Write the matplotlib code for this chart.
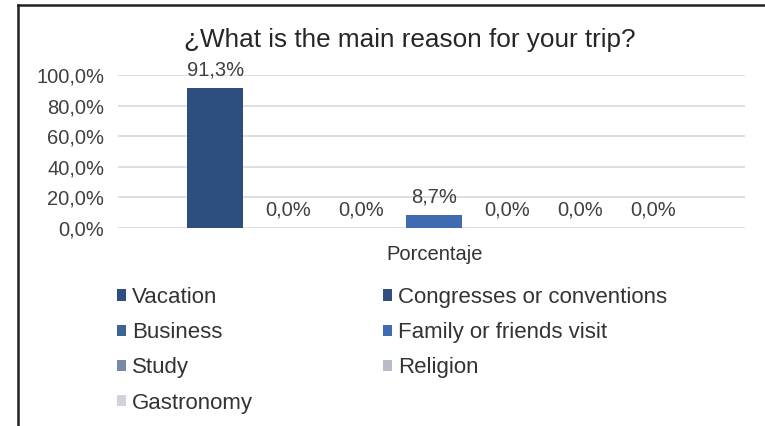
import matplotlib
matplotlib.use("Agg")
import matplotlib.pyplot as plt
from matplotlib.patches import Patch
from matplotlib.lines import Line2D

plt.rcParams['font.family'] = ['Liberation Sans', 'DejaVu Sans']

title = "¿What is the main reason for your trip?"
series = ["Vacation", "Congresses or conventions", "Business", "Family or friends visit",
          "Study", "Religion", "Gastronomy"]
values = [0.913, 0.0, 0.0, 0.087, 0.0, 0.0, 0.0]
colors = ["#2E4E80", "#32507F", "#3A6595", "#3F6CB0", "#7A87A9", "#B7BCC8", "#D0D3DA"]
category = "Porcentaje"
yticks = [0.0, 0.2, 0.4, 0.6, 0.8, 1.0]

def pct(v):
    return f"{v*100:.1f}%".replace(".", ",")

fig = plt.figure(figsize=(7.65, 4.26), dpi=100)
ax = fig.add_axes([118/765, 1-228/426, (745-118)/765, (228-75)/426])

text_col = "#404040"
for i, (v, c) in enumerate(zip(values, colors)):
    ax.bar(i, v, width=0.77, color=c, zorder=3)
    ax.annotate(pct(v), (i, v), xytext=(0, 6), textcoords="offset points",
                ha="center", va="bottom", fontsize=14.5, color=text_col)

ax.set_ylim(0, 1.0)
ax.set_xlim(-1.33, 7.26)
ax.set_yticks(yticks)
ax.set_yticklabels([pct(t) for t in yticks], fontsize=14.5, color=text_col)
ax.set_xticks([])
ax.tick_params(axis="y", length=0, pad=10)
ax.grid(axis="y", color="#D9D9D9", linewidth=1.2, zorder=0)
for s in ax.spines.values():
    s.set_visible(False)

fig.text(410/765, 1-40/426, title, ha="center", va="center", fontsize=18.8, color="#262626")
fig.text(435/765, 1-254/426, category, ha="center", va="center", fontsize=14.5, color="#333333")

order = [0, 2, 4, 6, 1, 3, 5]
handles = [Patch(facecolor=colors[k], edgecolor="none") for k in order]
labels = [series[k] for k in order]
fig.legend(handles, labels, ncol=2, loc="upper left",
           bbox_to_anchor=(117/765, 1-287/426), frameon=False,
           borderpad=0, borderaxespad=0,
           fontsize=16, handlelength=0.4, handleheight=0.4, handletextpad=0.27,
           columnspacing=5.85, labelspacing=0.64, labelcolor="#333333")

fig.add_artist(Line2D([18/765, 18/765], [0, 1-5/426], transform=fig.transFigure,
                      color="#222222", linewidth=1.8))
fig.add_artist(Line2D([18/765, 1], [1-5/426, 1-5/426], transform=fig.transFigure,
                      color="#222222", linewidth=1.8))

fig.savefig("out.png", dpi=100)
